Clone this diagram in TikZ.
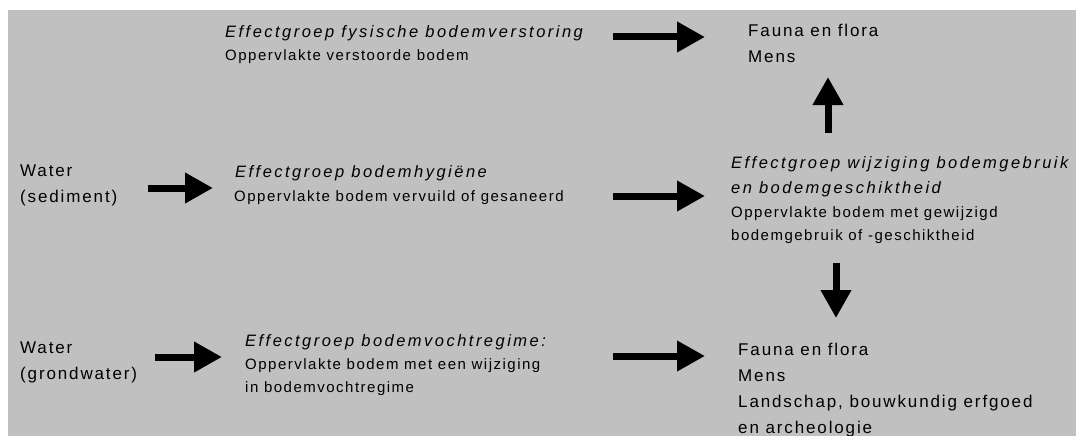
\documentclass[tikz,border=0pt]{standalone}
\usepackage{fontspec}
\setmainfont{Liberation Sans}[LetterSpace=11]
\newfontfamily\titelfont{Liberation Sans}[LetterSpace=15]
\newfontfamily\subfont{Liberation Sans}[LetterSpace=10]
\usetikzlibrary{positioning,arrows.meta}

\definecolor{achtergrond}{RGB}{192,192,192}

\tikzset{
	tekst/.style={inner sep=0pt, anchor=base west, align=left,
		font=\fontsize{17}{26}\selectfont},
	titel/.style={inner sep=0pt, anchor=base west, align=left,
		font=\titelfont\fontsize{16.5}{25}\selectfont\itshape},
	sub/.style={inner sep=0pt, anchor=base west, align=left,
		font=\subfont\fontsize{15}{23}\selectfont},
	pijl/.style={line width=7pt, -{Triangle[length=28pt,width=29pt]}},
}

\begin{document}
\begin{tikzpicture}[x=1pt,y=-1pt]

\useasboundingbox (0,0) rectangle (1076,436);
\fill[achtergrond] (8,10) rectangle (1076,436);

% Effectgroep fysische bodemverstoring
\node [titel] (fysisch) at (225,38) {Effectgroep fysische bodemverstoring};
\node [sub] (fysisch_sub) at (225,60) {Oppervlakte verstoorde bodem};

% Receptoren boven
\node [tekst] (receptor_boven) at (748,63) {Fauna en flora\\Mens};

% Water (sediment)
\node [tekst] (water_sediment) at (20,202) {Water\\(sediment)};

% Effectgroep bodemhygiene
\node [titel] (hygiene) at (235,177) {Effectgroep bodemhygiëne};
\node [sub] (hygiene_sub) at (234,201) {Oppervlakte bodem vervuild of gesaneerd};

% Effectgroep wijziging bodemgebruik
\node [titel] (gebruik) at (731,193) {Effectgroep wijziging bodemgebruik\\en bodemgeschiktheid};
\node [sub] (gebruik_sub) at (731,240) {Oppervlakte bodem met gewijzigd\\bodemgebruik of -geschiktheid};

% Water (grondwater)
\node [tekst] (water_grond) at (20,379) {Water\\(grondwater)};

% Effectgroep bodemvochtregime
\node [titel] (vocht) at (245,346) {Effectgroep bodemvochtregime:};
\node [sub] (vocht_sub) at (245,392) {Oppervlakte bodem met een wijziging\\in bodemvochtregime};

% Receptoren onder
\node [tekst] (receptor_onder) at (738,433) {Fauna en flora\\Mens\\Landschap, bouwkundig erfgoed\\en archeologie};

% Pijlen
\coordinate (fysisch_uit) at (613,37);
\coordinate (boven_in) at (705,37);
\coordinate (gebruik_op) at (828,133);
\coordinate (boven_onder) at (828,77);
\coordinate (sediment_uit) at (148,188);
\coordinate (hygiene_in) at (213,188);
\coordinate (hygiene_uit) at (613,196);
\coordinate (gebruik_in) at (705,196);
\coordinate (gebruik_neer) at (836,263);
\coordinate (onder_boven) at (836,318);
\coordinate (grond_uit) at (155,357);
\coordinate (vocht_in) at (222,357);
\coordinate (vocht_uit) at (613,356);
\coordinate (onder_in) at (705,356);

\draw[pijl] (fysisch_uit) -- (boven_in);
\draw[pijl] (gebruik_op) -- (boven_onder);
\draw[pijl] (sediment_uit) -- (hygiene_in);
\draw[pijl] (hygiene_uit) -- (gebruik_in);
\draw[pijl] (gebruik_neer) -- (onder_boven);
\draw[pijl] (grond_uit) -- (vocht_in);
\draw[pijl] (vocht_uit) -- (onder_in);

\end{tikzpicture}
\end{document}
